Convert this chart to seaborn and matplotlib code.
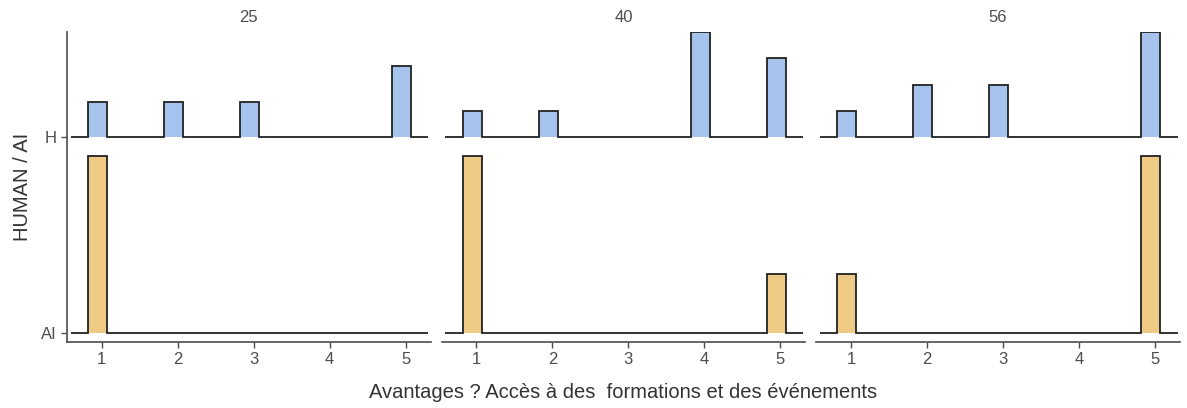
import numpy as np
import pandas as pd
import matplotlib
matplotlib.use("Agg")
import matplotlib.pyplot as plt
import seaborn as sns

# counts of answers per score (1..5), per panel and group
panels = ["25", "40", "56"]
scores = [1, 2, 3, 4, 5]
human_counts = [
    [1, 1, 1, 0, 2],
    [1, 1, 0, 4, 3],
    [1, 2, 2, 0, 4],
]
ai_counts = [
    [1, 0, 0, 0, 0],
    [3, 0, 0, 0, 1],
    [1, 0, 0, 0, 3],
]
groups = ["AI", "H"]
group_colors = {"H": "#a6c3ee", "AI": "#efca85"}

sns.set_theme(style="ticks")
plt.rcParams["font.family"] = ["Liberation Sans", "DejaVu Sans"]

fig, axes = plt.subplots(1, 3, figsize=(11.87, 4.08), dpi=100, sharey=True)
fig.subplots_adjust(left=0.0564, right=0.994, bottom=0.162, top=0.922, wspace=0.03)

bin_lo, bin_hi = -0.18, 0.07
x_min, x_max = 0.59, 5.30
scale = 0.9
grey = "#4d4d4d"

for i, ax in enumerate(axes):
    counts = {"H": np.array(human_counts[i], float), "AI": np.array(ai_counts[i], float)}
    dens = {g: c / c.sum() for g, c in counts.items()}
    top = max(d.max() for d in dens.values())
    for level, g in enumerate(groups, start=1):
        h = dens[g] / top * scale
        edges = [x_min]
        vals = []
        for s, hv in zip(scores, h):
            if hv > 0:
                vals.append(0)
                edges.append(s + bin_lo)
                vals.append(hv)
                edges.append(s + bin_hi)
        vals.append(0)
        edges.append(x_max)
        vals = np.array(vals) + level
        ax.stairs(vals, edges, baseline=level, fill=True, color=group_colors[g], lw=0)
        ax.stairs(vals, edges, baseline=None, color="#222222", lw=1.3)

    ax.set_xlim(0.54, 5.33)
    ax.set_ylim(0.954, 2.536)
    ax.set_xticks(scores)
    ax.set_xticklabels([str(s) for s in scores])
    ax.set_title(panels[i], fontsize=12, color=grey, pad=7)
    ax.tick_params(colors=grey, labelsize=12, length=4, width=1)
    for sp in ax.spines.values():
        sp.set_color(grey)
        sp.set_linewidth(1.2)
    ax.spines["top"].set_visible(False)
    ax.spines["right"].set_visible(False)
    if i > 0:
        ax.spines["left"].set_visible(False)
        ax.tick_params(axis="y", left=False, labelleft=False)

axes[0].set_yticks([1, 2])
axes[0].set_yticklabels(groups)
axes[0].set_ylabel("HUMAN / AI", fontsize=14.5, color="#333333", labelpad=6)
fig.supxlabel("Avantages ? Accès à des  formations et des événements", fontsize=14.5,
              color="#333333", x=0.525, y=0.015)

fig.savefig("out.png", dpi=100)
